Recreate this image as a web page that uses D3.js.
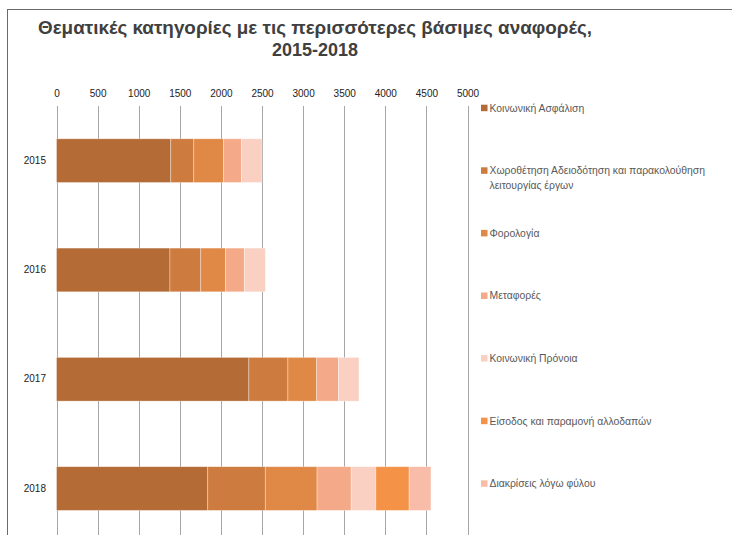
<!DOCTYPE html>
<html><head><meta charset="utf-8">
<script src="https://cdn.jsdelivr.net/npm/d3@7/dist/d3.min.js"></script>
<style>html,body{margin:0;padding:0;background:#fff;overflow:hidden}</style>
</head><body>
<script>
const titleLines = ["Θεματικές κατηγορίες με τις περισσότερες βάσιμες αναφορές,", "2015-2018"];
const years = ["2015", "2016", "2017", "2018"];
const seriesNames = [
  "Κοινωνική Ασφάλιση",
  "Χωροθέτηση Αδειοδότηση και παρακολούθηση λειτουργίας έργων",
  "Φορολογία",
  "Μεταφορές",
  "Κοινωνική Πρόνοια",
  "Είσοδος και παραμονή αλλοδαπών",
  "Διακρίσεις λόγω φύλου"
];
const legendLines = [
  ["Κοινωνική Ασφάλιση"],
  ["Χωροθέτηση Αδειοδότηση και παρακολούθηση", "λειτουργίας έργων"],
  ["Φορολογία"],
  ["Μεταφορές"],
  ["Κοινωνική Πρόνοια"],
  ["Είσοδος και παραμονή αλλοδαπών"],
  ["Διακρίσεις λόγω φύλου"]
];
const koinonikiAsfalisi = [1390, 1380, 2340, 1840];
const xorothetisi = [280, 375, 475, 700];
const forologia = [360, 300, 350, 630];
const metafores = [220, 230, 265, 415];
const koinonikiPronoia = [250, 255, 250, 300];
const eisodos = [0, 0, 0, 405];
const diakriseis = [0, 0, 0, 265];
const seriesValues = [koinonikiAsfalisi, xorothetisi, forologia, metafores, koinonikiPronoia, eisodos, diakriseis];
const colors = ["#b46b35", "#cd7b3e", "#e08845", "#f4aa88", "#f9d0c2", "#f49248", "#f8bca8"];
const xTicks = [0, 500, 1000, 1500, 2000, 2500, 3000, 3500, 4000, 4500, 5000];

const W = 732, H = 535;
const svg = d3.select("body").append("svg").attr("width", W).attr("height", H)
  .style("font-family", "'Liberation Sans', Arial, sans-serif");

// chart frame
svg.append("rect").attr("x", 7.5).attr("y", 9.5).attr("width", 740).attr("height", 560)
  .attr("fill", "none").attr("stroke", "#6a6a6a").attr("stroke-width", 1);

// title
const titleWidths = [554, 86];
svg.append("text").attr("text-anchor", "middle").attr("font-weight", "bold")
  .attr("font-size", 17.5).attr("fill", "#404040")
  .selectAll("tspan").data(titleLines).join("tspan")
  .attr("x", 315).attr("y", (d, i) => 34 + i * 22)
  .attr("textLength", (d, i) => titleWidths[i]).attr("lengthAdjust", "spacingAndGlyphs")
  .text(d => d);

const x = d3.scaleLinear().domain([0, 5000]).range([56.5, 467.5]);
const y = d3.scaleBand().domain(years).range([106, 543.2]).paddingInner(0.6).paddingOuter(0.3);

// gridlines
svg.append("g").selectAll("line").data(xTicks).join("line")
  .attr("x1", d => Math.round(x(d)) + 0.5).attr("x2", d => Math.round(x(d)) + 0.5)
  .attr("y1", 106).attr("y2", H)
  .attr("stroke", "#a6a6a6").attr("stroke-width", 1);

// top axis labels
const xAxis = d3.axisTop(x).tickValues(xTicks).tickSize(0).tickPadding(0).tickFormat(d3.format("d"));
const gx = svg.append("g").attr("transform", "translate(0,97)").call(xAxis);
gx.select(".domain").remove();
gx.selectAll("text").attr("font-size", 10).attr("fill", "#222").style("font-family", "'Liberation Sans', Arial, sans-serif");

// stacked bars
const rows = years.map((yr, i) => {
  const r = { year: yr };
  seriesNames.forEach((s, j) => r[s] = seriesValues[j][i]);
  return r;
});
const stacked = d3.stack().keys(seriesNames)(rows);
svg.append("g").selectAll("g").data(stacked).join("g")
  .attr("fill", (d, i) => colors[i])
  .selectAll("rect").data(d => d.filter(p => p[1] - p[0] > 0)).join("rect")
  .attr("x", d => x(d[0])).attr("width", d => x(d[1]) - x(d[0]))
  .attr("y", d => y(d.data.year)).attr("height", y.bandwidth())
  .attr("stroke", "rgba(255,255,255,0.45)").attr("stroke-width", 0.75);

// y axis labels
const yAxis = d3.axisLeft(y).tickSize(0).tickPadding(0);
const gy = svg.append("g").attr("transform", "translate(46,0)").call(yAxis);
gy.select(".domain").remove();
gy.selectAll("text").attr("font-size", 10).attr("fill", "#222").style("font-family", "'Liberation Sans', Arial, sans-serif");

// legend
const lg = svg.append("g").selectAll("g").data(seriesNames).join("g")
  .attr("transform", (d, i) => `translate(481, ${107.7 + i * 62.6})`);
lg.append("rect").attr("x", 0).attr("y", -3).attr("width", 6.5).attr("height", 6.5)
  .attr("fill", (d, i) => colors[i]);
lg.append("text").attr("font-size", 10.4).attr("fill", "#595959")
  .selectAll("tspan").data((d, i) => legendLines[i]).join("tspan")
  .attr("x", 8.5).attr("y", (d, i) => 3.8 + i * 14.5).text(d => d);
</script>
</body></html>
